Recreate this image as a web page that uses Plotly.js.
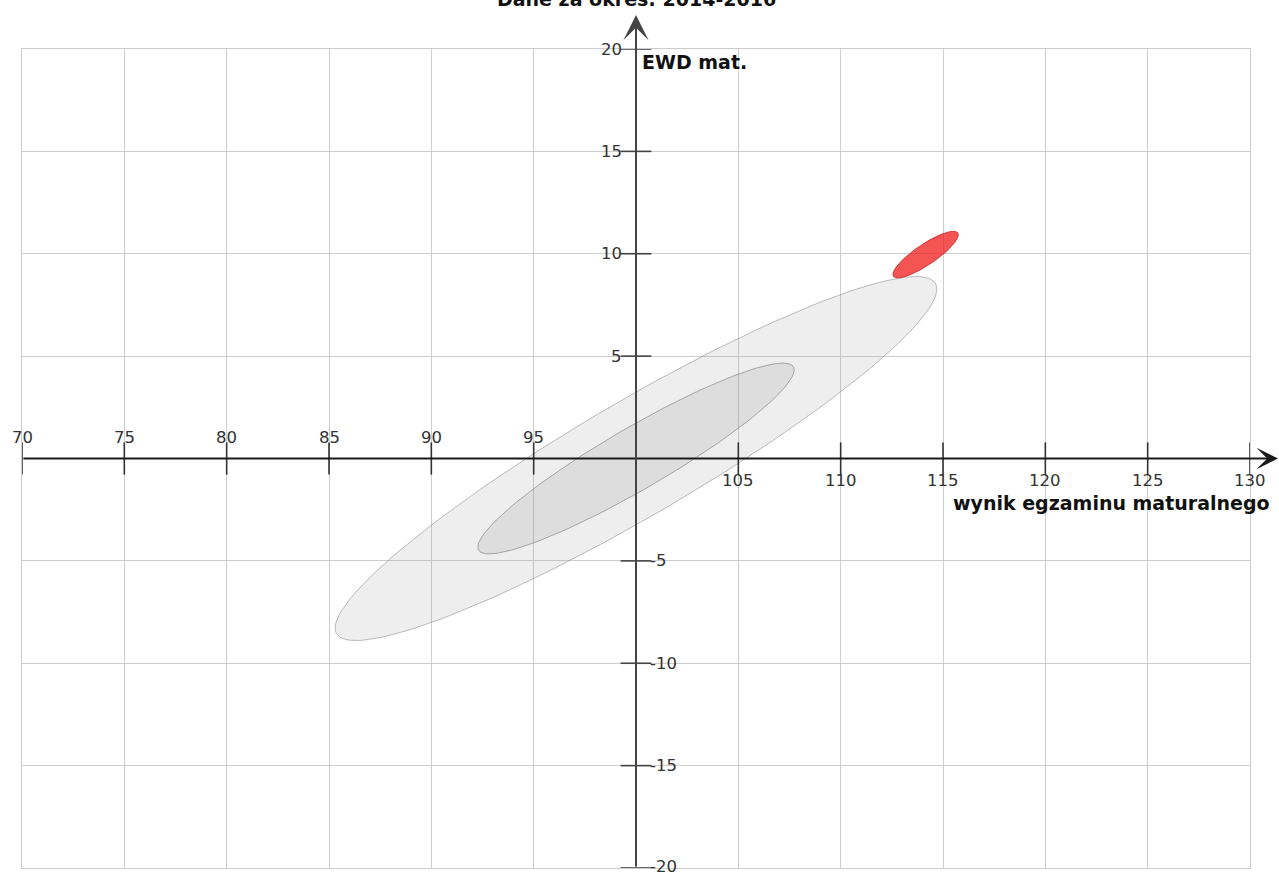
<!DOCTYPE html>
<html><head><meta charset="utf-8">
<script src="https://cdn.plot.ly/plotly-3.0.1.min.js"></script>
<style>html,body{margin:0;padding:0;background:#fff}</style>
</head><body><div id="chart" style="width:1279px;height:875px"></div>
<script>
// ---- data ----
const chartTitle = 'Dane za okres: 2014-2016';
const xAxisLabel = 'wynik egzaminu maturalnego';
const yAxisLabel = 'EWD mat.';
const xTickValues = [70, 75, 80, 85, 90, 95, 105, 110, 115, 120, 125, 130];
const yTickValues = [20, 15, 10, 5, -5, -10, -15, -20];
const ellipseNames = ['obszar szerszy', 'obszar węższy', 'szkoła'];
const centerX = [100, 100, 114.15];
const centerY = [0, 0, 9.96];
const spreadX = [14.7, 7.73, 1.6];
const spreadY = [8.89, 4.66, 1.14];
const correlation = [0.931, 0.928, 0.85];

// ---- styles ----
const fillColors = ['rgba(160,160,160,0.18)', 'rgba(130,130,130,0.15)', 'rgba(240,30,30,0.76)'];
const lineColors = ['rgba(110,110,110,0.45)', 'rgba(100,100,100,0.5)', 'rgba(190,20,20,0.7)'];
const FONT = '"DejaVu Sans", Verdana, sans-serif';

function ellipsePoints(i) {
  const xs = [], ys = [];
  const r = correlation[i], q = Math.sqrt(1 - r * r);
  const n = 160;
  for (let k = 0; k <= n; k++) {
    const t = 2 * Math.PI * k / n;
    xs.push(centerX[i] + spreadX[i] * Math.cos(t));
    ys.push(centerY[i] + spreadY[i] * (r * Math.cos(t) + q * Math.sin(t)));
  }
  return {xs, ys};
}

const traces = ellipseNames.map((name, i) => {
  const p = ellipsePoints(i);
  return {
    type: 'scatter', mode: 'lines', name: name,
    x: p.xs, y: p.ys, fill: 'toself',
    fillcolor: fillColors[i],
    line: {color: lineColors[i], width: 1},
    hoverinfo: 'skip'
  };
});

// tick marks on the crossing axes
traces.push({
  type: 'scatter', mode: 'markers', x: xTickValues, y: xTickValues.map(() => 0),
  marker: {symbol: 'line-ns-open', size: 23, color: '#333', line: {color: '#333', width: 1.6}},
  cliponaxis: false, hoverinfo: 'skip'
});
traces.push({
  type: 'scatter', mode: 'markers', x: yTickValues.map(() => 100), y: yTickValues,
  marker: {symbol: 'line-ew-open', size: 22, color: '#444', line: {color: '#444', width: 1.6}},
  cliponaxis: false, hoverinfo: 'skip'
});

const annotations = [];
// title
annotations.push({
  xref: 'x', yref: 'paper', x: 100, y: 1 + 50 / 819, text: '<b>' + chartTitle + '</b>',
  showarrow: false, xanchor: 'center', yanchor: 'middle',
  font: {family: FONT, size: 19, color: '#111'}
});
// axis lines with arrows
annotations.push({
  xref: 'paper', yref: 'y', x: (1279 - 22) / 1228, y: 0,
  axref: 'pixel', ayref: 'pixel', ax: -1257, ay: 0,
  text: '', showarrow: true, arrowhead: 3, arrowsize: 1.8, arrowwidth: 2, arrowcolor: '#1a1a1a', standoff: 0
});
annotations.push({
  xref: 'x', yref: 'paper', x: 100, y: 1 + 34 / 819,
  axref: 'pixel', ayref: 'pixel', ax: 0, ay: 853,
  text: '', showarrow: true, arrowhead: 3, arrowsize: 2.1, arrowwidth: 2, arrowcolor: '#444', standoff: 0
});
// x tick labels
xTickValues.forEach(v => {
  annotations.push({
    xref: 'x', yref: 'y', x: v, y: 0, text: String(v), showarrow: false,
    xanchor: 'center', yanchor: 'middle', yshift: v < 100 ? 21 : -22,
    font: {family: FONT, size: 16.5, color: '#333'}
  });
});
// y tick labels
yTickValues.forEach(v => {
  annotations.push({
    xref: 'x', yref: 'y', x: 100, y: v, text: String(v), showarrow: false,
    xanchor: v > 0 ? 'right' : 'left', yanchor: 'middle', xshift: v > 0 ? -12 : 12,
    yshift: v === -20 ? 2 : 0,
    font: {family: FONT, size: 16.5, color: '#333'}
  });
});
// axis labels
annotations.push({
  xref: 'x', yref: 'y', x: 100, y: 20, text: '<b>' + yAxisLabel + '</b>', showarrow: false,
  xanchor: 'left', yanchor: 'middle', xshift: 4, yshift: -13,
  font: {family: FONT, size: 19, color: '#111'}
});
annotations.push({
  xref: 'x', yref: 'y', x: 130, y: 0, text: '<b>' + xAxisLabel + '</b>', showarrow: false,
  xanchor: 'right', yanchor: 'middle', xshift: 22, yshift: -44,
  font: {family: FONT, size: 19, color: '#111'}
});

const layout = {
  width: 1279, height: 875,
  margin: {l: 22, r: 29, t: 49, b: 7, pad: 0},
  paper_bgcolor: '#fff', plot_bgcolor: '#fff',
  showlegend: false,
  xaxis: {range: [70, 130], dtick: 5, tick0: 70, showgrid: true, gridcolor: '#cdcdcd', gridwidth: 1,
          zeroline: false, showticklabels: false, ticks: '', showline: true, mirror: true,
          linecolor: '#cdcdcd', linewidth: 1, fixedrange: true},
  yaxis: {range: [-20, 20], dtick: 5, tick0: -20, showgrid: true, gridcolor: '#cdcdcd', gridwidth: 1,
          zeroline: false, showticklabels: false, ticks: '', showline: true, mirror: true,
          linecolor: '#cdcdcd', linewidth: 1, fixedrange: true},
  annotations: annotations
};

Plotly.newPlot('chart', traces, layout, {displayModeBar: false, staticPlot: true});
</script>
</body></html>
